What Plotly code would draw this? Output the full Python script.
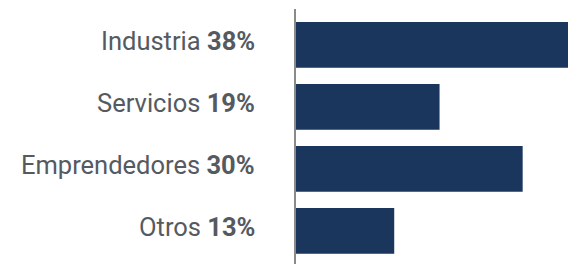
import plotly.graph_objects as go

categories = ["Industria", "Servicios", "Emprendedores", "Otros"]
values = [38, 19, 30, 13]

bar_color = "#1b365d"
text_color = "#555a61"

fig = go.Figure(go.Bar(
    y=categories, x=values, orientation="h",
    marker=dict(color=bar_color, line=dict(width=0)),
    hoverinfo="skip",
))

for c, v in zip(categories, values):
    fig.add_annotation(
        x=0, xref="paper", y=c, yref="y",
        xanchor="right", yanchor="middle", xshift=-39, yshift=3.5,
        text=f"{c} <b>{v}%</b>", showarrow=False,
        font=dict(family="Roboto", size=25.5, color=text_color),
    )

fig.update_layout(
    width=568, height=264,
    margin=dict(l=296, r=0, t=9, b=0),
    paper_bgcolor="white", plot_bgcolor="white",
    bargap=0.263, showlegend=False,
    xaxis=dict(range=[0, 36], visible=False, fixedrange=True),
    yaxis=dict(
        type="category", categoryorder="array", categoryarray=categories,
        range=[3.535, -0.577], showticklabels=False, ticks="",
        showline=True, linecolor="#8a8a8a", linewidth=1.5,
        showgrid=False, zeroline=False,
    ),
)

fig.write_html(
    "out.html",
    config={"displayModeBar": False},
    post_script="document.body.style.margin='0';document.body.style.overflow='hidden';",
)
